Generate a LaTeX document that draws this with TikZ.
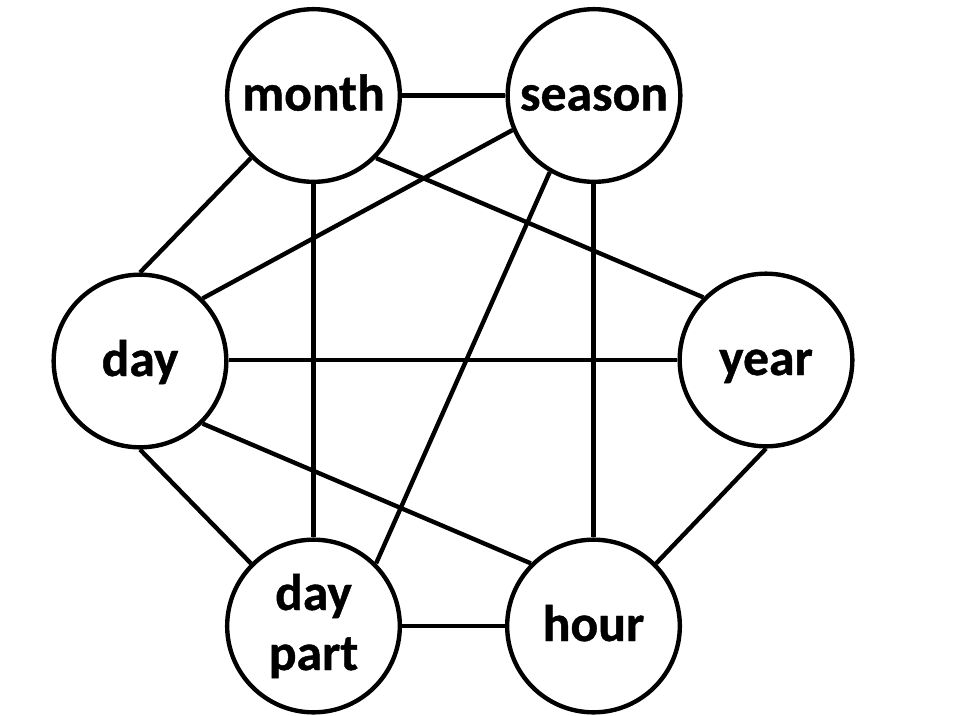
\documentclass[tikz,border=0pt]{standalone}
\usepackage{fontspec}
\setmainfont{Carlito}[BoldFeatures={FakeBold=0.8}]
\begin{document}
\begin{tikzpicture}[x=0.75pt,y=-0.75pt,
  vtx/.style={circle,draw=black,line width=3.3pt,minimum size=129.5pt,inner sep=0pt,
    align=center,font=\fontsize{38.7}{45}\selectfont\bfseries},
  one/.style={text height=27pt,text depth=4.5pt},
  edge/.style={line width=3.3pt,draw=black}]
\useasboundingbox (0,0) rectangle (975,715);
\node[vtx,one] (month) at (313.5,95.5) {month};
\node[vtx,one] (season) at (594,95.5) {season};
\node[vtx,one] (day) at (140,361) {day};
\node[vtx,one] (year) at (766,360) {year};
\node[vtx] (daypart) at (313.5,626) {\rule{0pt}{29pt}day\\part\rule[-8pt]{0pt}{8pt}};
\node[vtx,one] (hour) at (593.5,626) {hour};
\draw[edge] (month.east) -- (season.west);
\draw[edge] (month.south west) -- (day.north);
\draw[edge] (month.south) -- (daypart.north);
\draw[edge] (month.south east) -- (year.north west);
\draw[edge] (season.203) -- (day.north east);
\draw[edge] (season.240) -- (daypart.north east);
\draw[edge] (season.south -| hour.north) -- (hour.north);
\draw[edge] (day.east |- year.west) -- (year.west);
\draw[edge] (day.south east) -- (hour.north west);
\draw[edge] (day.south) -- (daypart.north west);
\draw[edge] (daypart.east) -- (hour.west);
\draw[edge] (hour.north east) -- (year.south);
\end{tikzpicture}
\end{document}
